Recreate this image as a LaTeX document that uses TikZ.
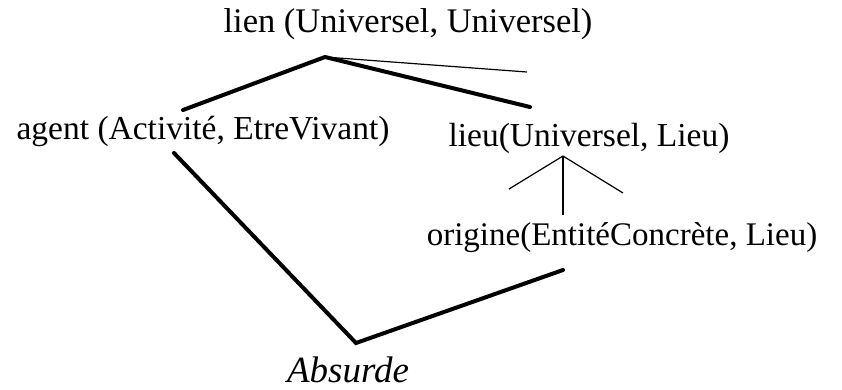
\documentclass[tikz,border=0pt]{standalone}
\usepackage{fontspec}
\setmainfont{Liberation Serif}
\begin{document}
\begin{tikzpicture}[x=1pt,y=-1pt,
  lbl/.style={inner sep=0pt,font=\fontsize{33.5}{40}\selectfont},
  bold/.style={line width=4pt,line cap=round},
  thin/.style={line width=1.2pt},
  mid/.style={line width=2.6pt}]
\useasboundingbox[fill=white] (0,0) rectangle (842,389);
\node[lbl,font=\fontsize{34.5}{40}\selectfont] (lien) at (408,24) {lien (Universel, Universel)};
\node[lbl] (agent) at (203,131) {agent (Activité, EtreVivant)};
\node[lbl] (lieu) at (589,138) {lieu(Universel, Lieu)};
\node[lbl,font=\fontsize{33}{40}\selectfont] (origine) at (622,238) {origine(EntitéConcrète, Lieu)};
\node[lbl,font=\fontsize{37}{44}\selectfont\itshape] (absurde) at (348,370) {Absurde};
\coordinate (a1) at (325,57);
\coordinate (a1l) at (183,110);
\coordinate (a1r) at (530,107);
\coordinate (a1t) at (527,72);
\coordinate (a2) at (563,156);
\coordinate (a2l) at (509,189);
\coordinate (a2r) at (623,193);
\coordinate (a2b) at (563,215);
\coordinate (agb) at (174,153);
\coordinate (abt) at (356,343);
\coordinate (orb) at (563,270);
\draw[bold] (a1l) -- (a1) -- (a1r);
\draw[thin] (a1) -- (a1t);
\draw[thin] (a2l) -- (a2) -- (a2r);
\draw[mid] (a2) -- (a2b);
\draw[bold] (agb) -- (abt) -- (orb);
\end{tikzpicture}
\end{document}
